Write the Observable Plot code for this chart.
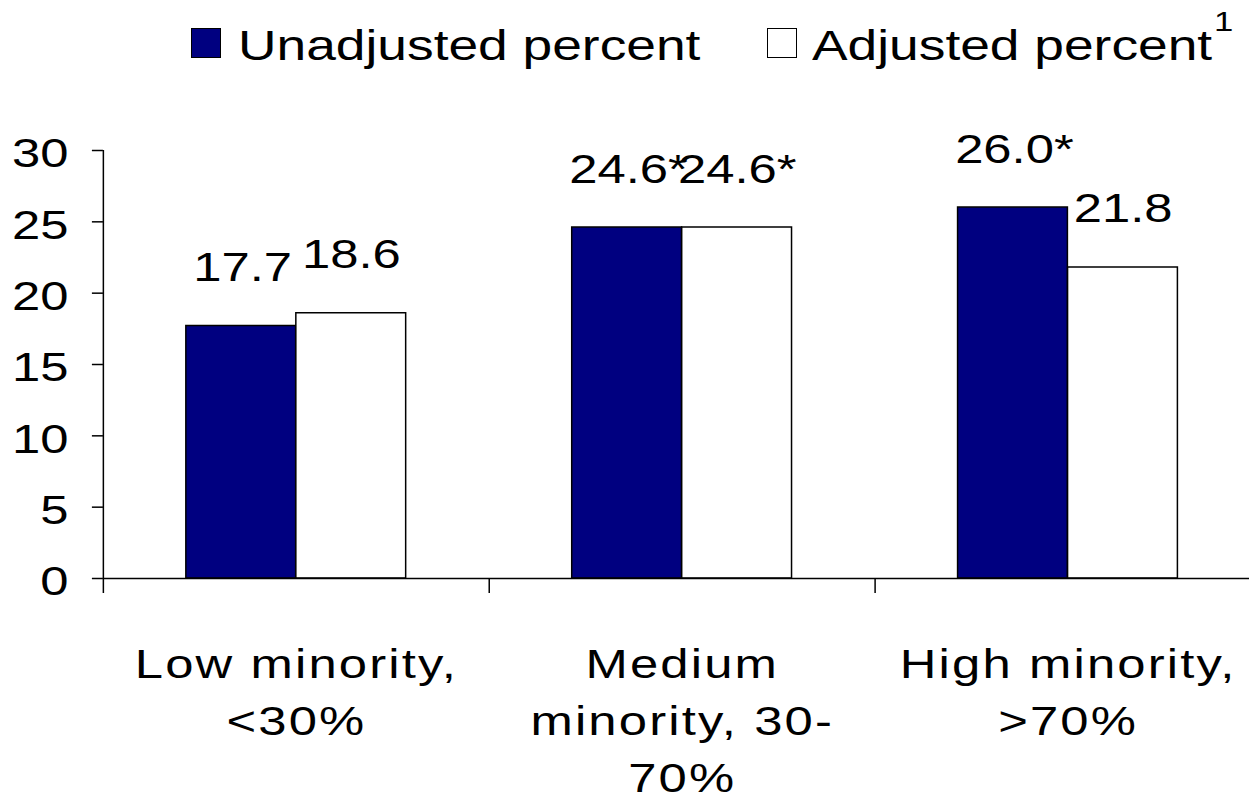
<!DOCTYPE html>
<html><head><meta charset="utf-8">
<script src="https://cdn.jsdelivr.net/npm/d3@7"></script>
<script src="https://cdn.jsdelivr.net/npm/@observablehq/plot@0.6"></script>
<style>
html,body{margin:0;padding:0;background:#fff;overflow:hidden;}
#wrap{position:relative;width:1249px;height:811px;font-family:"Liberation Sans",Arial,sans-serif;color:#000;}
.lg{position:absolute;white-space:nowrap;line-height:1;transform-origin:0 0;transform:scaleX(1.24);}
.sw{position:absolute;box-sizing:border-box;width:30px;height:30px;border:1.5px solid #000;}
#chart{position:absolute;left:0;top:90px;}
#chart svg *{vector-effect:non-scaling-stroke;}
#chart svg .xlab text{letter-spacing:1.7px;}
</style></head><body>
<div id="wrap"><div id="legend"></div><div id="chart"></div></div>
<script>
const categories = ["Low minority, <30%", "Medium minority, 30-70%", "High minority, >70%"];
const tickLabels = ["Low minority,\n<30%", "Medium\nminority, 30-\n70%", "High minority,\n>70%"];
const seriesNames = ["Unadjusted percent", "Adjusted percent"];
const seriesColors = ["#000080", "#ffffff"];
const footnoteMark = "1";
const unadjusted = [17.7, 24.6, 26.0];
const adjusted = [18.6, 24.6, 21.8];
const unadjustedSig = [false, true, true];
const adjustedSig = [false, true, false];
const yTicks = [0, 5, 10, 15, 20, 25, 30];

// legend (HTML, above the SVG)
const legend = document.getElementById("legend");
const lgItems = [
  {sw: {left: 191, top: 28}, text: {left: 238, top: 23.6}},
  {sw: {left: 767, top: 28}, text: {left: 812, top: 23.6}}
];
seriesNames.forEach((name, i) => {
  const sw = document.createElement("div");
  sw.className = "sw";
  sw.style.left = lgItems[i].sw.left + "px";
  sw.style.top = lgItems[i].sw.top + "px";
  sw.style.background = seriesColors[i];
  legend.appendChild(sw);
  const t = document.createElement("div");
  t.className = "lg";
  t.style.left = lgItems[i].text.left + "px";
  t.style.top = lgItems[i].text.top + "px";
  t.style.fontSize = "43px";
  t.textContent = name;
  legend.appendChild(t);
});
const sup = document.createElement("div");
sup.className = "lg";
sup.style.left = "1214px"; sup.style.top = "8.3px"; sup.style.fontSize = "28px";
sup.textContent = footnoteMark;
legend.appendChild(sup);

// chart
const rows = categories.flatMap((c, i) => [
  {category: c, series: seriesNames[0], value: unadjusted[i], label: unadjusted[i].toFixed(1) + (unadjustedSig[i] ? "*" : "")},
  {category: c, series: seriesNames[1], value: adjusted[i], label: adjusted[i].toFixed(1) + (adjustedSig[i] ? "*" : "")}
]);
const uRows = rows.filter(d => d.series === seriesNames[0]);
const aRows = rows.filter(d => d.series === seriesNames[1]);

const S = 1249 / 984;
const W = 984, H = 721, mL = 81.1, mR = -9.5, mT = 60, mB = 233;
const bw = (W - mL - mR) / categories.length;
const barW = 110 / S;

const svg = Plot.plot({
  width: W, height: H,
  marginLeft: mL, marginRight: mR, marginTop: mT, marginBottom: mB,
  x: {type: "band", domain: categories, padding: 0, axis: null},
  y: {domain: [0, 30], axis: null},
  style: {fontFamily: '"Liberation Sans", Arial, sans-serif', color: "#000", background: "transparent", overflow: "visible"},
  marks: [
    Plot.barY(uRows, {x: "category", y: "value", fill: seriesColors[0], stroke: "#000", strokeWidth: 1.5, insetLeft: bw / 2 - barW, insetRight: bw / 2}),
    Plot.barY(aRows, {x: "category", y: "value", fill: seriesColors[1], stroke: "#000", strokeWidth: 1.5, insetLeft: bw / 2, insetRight: bw / 2 - barW}),
    Plot.ruleY([0], {stroke: "#000", strokeWidth: 1.5}),
    Plot.ruleX([categories[0]], {x: d => d, y1: () => 0, y2: () => 30, dx: -bw / 2, stroke: "#000", strokeWidth: 1.5}),
    Plot.ruleX(categories, {x: d => d, y1: () => 0, y2: () => 0, dx: -bw / 2, insetBottom: -15, stroke: "#000", strokeWidth: 1.5}),
    Plot.axisY(yTicks, {label: null, tickSize: 8.7, tickFormat: () => "", strokeWidth: 1.5, stroke: "#000"}),
    Plot.axisY(yTicks, {label: null, tickSize: 0, tickPadding: 27.6, fontSize: 40, dy: 4, tickFormat: d => String(d), fill: "#000"}),
    Plot.text(uRows, {x: "category", y: "value", text: "label", dx: -barW / 2 + 1, dy: -45, lineAnchor: "bottom", fontSize: 40, fill: "#000"}),
    Plot.text(aRows, {x: "category", y: "value", text: "label", dx: barW / 2, dy: -45, lineAnchor: "bottom", fontSize: 40, fill: "#000"}),
    Plot.text(categories, {x: d => d, y: () => 0, text: (d, i) => tickLabels[i], lineAnchor: "top", dy: 59.5, lineHeight: 1.425, fontSize: 40, fill: "#000", className: "xlab"})
  ]
});
svg.setAttribute("width", 1249);
svg.setAttribute("height", H);
svg.setAttribute("preserveAspectRatio", "none");
svg.style.width = "1249px";
svg.style.height = H + "px";
svg.style.maxWidth = "none";
document.getElementById("chart").appendChild(svg);
</script>
</body></html>
